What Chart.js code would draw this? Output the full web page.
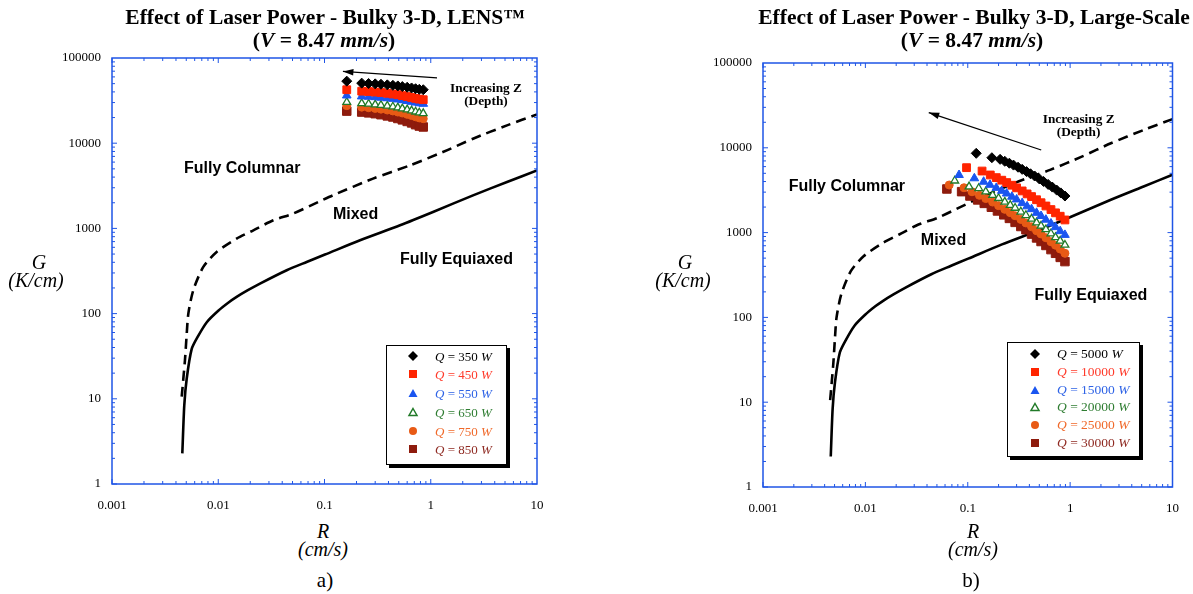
<!DOCTYPE html>
<html>
<head>
<meta charset="utf-8">
<script src="https://cdn.jsdelivr.net/npm/chart.js@4.4.1/dist/chart.umd.min.js"></script>
<style>
  body { margin: 0; background: #fff; font-family: "Liberation Serif", "Times New Roman", serif; }
  #page { position: relative; width: 1193px; height: 594px; overflow: hidden; }
  .panel { position: absolute; top: 0; }
  .panel canvas { display: block; }
  .txt { position: absolute; transform: translate(-50%, -50%); white-space: nowrap; line-height: 1; color: #000; }
  .title { font-weight: bold; font-size: 21.5px; }
  .ax { font-style: italic; font-size: 20px; }
  .unit { font-style: italic; font-size: 20px; }
  .tag { font-size: 21px; }
  .legend { position: absolute; border: 1px solid #000; box-shadow: 3px 3px 0 #000; background: #fff; }
  .legend svg { position: absolute; }
  .legend span { position: absolute; white-space: nowrap; transform: translateY(-50%); line-height: 1; }
</style>
</head>
<body>
<div id="page">
  <div class="panel" style="left:0;width:596px;height:520px"><canvas id="lens" width="596" height="520"></canvas></div>
  <div class="panel" style="left:596px;width:597px;height:523px"><canvas id="large" width="597" height="523"></canvas></div>

  <div class="txt title" style="left:325px;top:18px">Effect of Laser Power - Bulky 3-D, LENS™</div>
  <div class="txt title" style="left:324px;top:41px">(<i>V</i> = 8.47 <i>mm/s</i>)</div>
  <div class="txt title" style="left:974px;top:18px">Effect of Laser Power - Bulky 3-D, Large-Scale</div>
  <div class="txt title" style="left:972px;top:41px">(<i>V</i> = 8.47 <i>mm/s</i>)</div>

  <div class="txt ax" style="left:39px;top:262px">G</div>
  <div class="txt unit" style="left:36px;top:280px">(K/cm)</div>
  <div class="txt ax" style="left:685px;top:262px">G</div>
  <div class="txt unit" style="left:683px;top:280px">(K/cm)</div>

  <div class="txt ax" style="left:323px;top:531px">R</div>
  <div class="txt unit" style="left:323px;top:549px">(cm/s)</div>
  <div class="txt ax" style="left:973px;top:531px">R</div>
  <div class="txt unit" style="left:973px;top:549px">(cm/s)</div>

  <div class="txt tag" style="left:325px;top:580px">a)</div>
  <div class="txt tag" style="left:971px;top:580px">b)</div>

  <div id="legendA" class="legend" style="left:386px;top:345px;width:119px;height:118px"></div>
  <div id="legendB" class="legend" style="left:1007px;top:342px;width:131px;height:113px"></div>
</div>

<script>
// axis ticks
const xTicks = [0.001, 0.01, 0.1, 1, 10];
const yTicks = [1, 10, 100, 1000, 10000, 100000];

// transition boundaries (same in both panels)
const columnarR = [0.00453, 0.00486, 0.00505, 0.00523, 0.00582, 0.00723, 0.00966, 0.0149, 0.0214, 0.0330, 0.0507, 0.0875, 0.120, 0.286, 0.638, 1.30, 2.50, 5.22, 10];
const columnarG = [10.6, 28.4, 58, 100, 188, 353, 529, 759, 950, 1245, 1492, 2040, 2445, 3840, 5495, 7870, 11300, 16200, 21800];
const equiaxedR = [0.00459, 0.00479, 0.00505, 0.00562, 0.0064, 0.0078, 0.0100, 0.0125, 0.0149, 0.019, 0.0247, 0.0441, 0.0679, 0.101, 0.216, 0.514, 1.05, 2.50, 5.22, 10];
const equiaxedG = [2.29, 8.4, 17.3, 38.3, 53.3, 79.3, 108, 135, 157, 188, 225, 323, 404, 493, 726, 1087, 1557, 2443, 3500, 4800];

// panel a) LENS, Q = 350..850 W
const lensLabels = ['350', '450', '550', '650', '750', '850'];
const lensR = [0.162, 0.224, 0.26, 0.30, 0.34, 0.39, 0.44, 0.49, 0.54, 0.60, 0.66, 0.72, 0.78, 0.85];
const lensG350 = [53500, 50700, 50200, 49700, 49200, 48400, 47800, 47000, 46200, 45400, 44500, 43600, 42900, 42400];
const lensG450 = [42400, 40800, 40400, 39800, 39300, 38500, 37800, 37100, 36200, 35300, 34400, 33600, 32900, 32400];
const lensG550 = [36300, 35400, 35100, 34700, 34200, 33700, 33200, 32600, 32000, 31300, 30600, 30000, 29400, 29000];
const lensG650 = [30300, 29300, 28900, 28400, 28000, 27400, 26800, 26200, 25500, 24800, 24100, 23400, 22800, 22400];
const lensG750 = [27600, 26500, 26100, 25600, 25100, 24500, 23900, 23200, 22600, 21800, 21100, 20400, 19800, 19400];
const lensG850 = [23800, 23200, 22700, 22200, 21600, 20900, 20300, 19500, 18800, 18000, 17300, 16500, 15900, 15500];

// panel b) large scale, Q = 5000..30000 W
const bigLabels = ['5000', '10000', '15000', '20000', '25000', '30000'];
const bigR5000 = [0.121, 0.172, 0.207, 0.23, 0.255, 0.28, 0.31, 0.34, 0.375, 0.41, 0.45, 0.50, 0.55, 0.61, 0.67, 0.74, 0.81, 0.89];
const bigG5000 = [8610, 7640, 7310, 6930, 6580, 6250, 5900, 5570, 5240, 4940, 4650, 4300, 4010, 3700, 3440, 3170, 2940, 2700];
const bigR10000 = [0.0973, 0.138, 0.166, 0.19, 0.215, 0.24, 0.27, 0.30, 0.34, 0.38, 0.42, 0.47, 0.52, 0.58, 0.65, 0.72, 0.80, 0.89];
const bigG10000 = [5830, 5320, 4780, 4450, 4150, 3890, 3620, 3370, 3100, 2860, 2660, 2440, 2250, 2060, 1870, 1710, 1560, 1410];
const bigR15000 = [0.0822, 0.116, 0.143, 0.165, 0.19, 0.215, 0.24, 0.27, 0.30, 0.34, 0.38, 0.42, 0.47, 0.52, 0.58, 0.65, 0.72, 0.80, 0.89];
const bigG15000 = [4780, 4370, 3980, 3660, 3370, 3110, 2890, 2650, 2460, 2230, 2040, 1890, 1710, 1570, 1420, 1280, 1160, 1040, 940];
const bigR20000 = [0.0746, 0.103, 0.128, 0.15, 0.175, 0.20, 0.23, 0.26, 0.29, 0.33, 0.37, 0.42, 0.47, 0.52, 0.58, 0.65, 0.72, 0.80, 0.89];
const bigG20000 = [4090, 3480, 3330, 3040, 2760, 2540, 2300, 2110, 1950, 1760, 1600, 1450, 1310, 1200, 1090, 975, 880, 800, 715];
const bigR25000 = [0.0659, 0.0919, 0.110, 0.13, 0.15, 0.175, 0.20, 0.23, 0.26, 0.29, 0.33, 0.37, 0.42, 0.47, 0.52, 0.58, 0.65, 0.72, 0.80, 0.89];
const bigG25000 = [3640, 3380, 3030, 2750, 2520, 2290, 2080, 1880, 1720, 1580, 1430, 1300, 1170, 1050, 965, 870, 780, 710, 640, 570];
const bigR30000 = [0.0625, 0.0871, 0.105, 0.125, 0.145, 0.17, 0.195, 0.225, 0.255, 0.29, 0.33, 0.37, 0.42, 0.47, 0.52, 0.58, 0.65, 0.72, 0.80, 0.89];
const bigG30000 = [3270, 3040, 2700, 2430, 2210, 1990, 1800, 1620, 1470, 1320, 1180, 1080, 960, 865, 785, 705, 630, 570, 510, 455];

// region labels and arrows, placed in data coordinates (R, G)
const lensNotes = [
  { text: 'Fully Columnar', r: 0.00476, g: 5070, kind: 'region' },
  { text: 'Mixed', r: 0.120, g: 1463, kind: 'region' },
  { text: 'Fully Equiaxed', r: 0.514, g: 434, kind: 'region' },
  { text: 'Increasing Z', r: 3.31, g: 43900, kind: 'depth' },
  { text: '(Depth)', r: 3.31, g: 30900, kind: 'depth' }
];
const lensArrow = { r1: 1.146, g1: 58300, r2: 0.149, g2: 69500 };
const bigNotes = [
  { text: 'Fully Columnar', r: 0.00178, g: 3450, kind: 'region' },
  { text: 'Mixed', r: 0.0348, g: 796, kind: 'region' },
  { text: 'Fully Equiaxed', r: 0.448, g: 179, kind: 'region' },
  { text: 'Increasing Z', r: 1.21, g: 21300, kind: 'depth' },
  { text: '(Depth)', r: 1.21, g: 14950, kind: 'depth' }
];
const bigArrow = { r1: 0.522, g1: 9420, r2: 0.0416, g2: 26060 };

const axisBlue = '#1f55e6';
const markerStyles = [
  { shape: 'rectRot', color: '#000000', fill: '#000000', radius: 5, width: 1 },
  { shape: 'rect', color: '#ff2400', fill: '#ff2400', radius: 5.5, width: 1 },
  { shape: 'triangle', color: '#1a55f0', fill: '#1a55f0', radius: 5, width: 1 },
  { shape: 'triangle', color: '#217a28', fill: '#ffffff', radius: 4.5, width: 1.3 },
  { shape: 'circle', color: '#e85a15', fill: '#e85a15', radius: 4, width: 1 },
  { shape: 'rect', color: '#8e1b0d', fill: '#8e1b0d', radius: 6, width: 1 }
];
const legendTextColors = ['#000000', '#ff3a2a', '#2e63e6', '#2f7d32', '#f0692a', '#8f2a22'];

// frame with inward ticks on all four sides, plus the annotations
const framePlugin = {
  id: 'frame',
  afterDraw(chart, args, opts) {
    const { ctx, chartArea: a, scales: { x, y } } = chart;
    ctx.save();
    ctx.strokeStyle = axisBlue;
    ctx.lineWidth = 1.5;
    ctx.strokeRect(a.left, a.top, a.right - a.left, a.bottom - a.top);
    ctx.lineWidth = 1;
    ctx.beginPath();
    for (let e = -3; e < 1; e++) {
      for (let m = 1; m < 10; m++) {
        const px = x.getPixelForValue(m * Math.pow(10, e));
        const len = m === 1 ? 5 : 3;
        ctx.moveTo(px, a.bottom); ctx.lineTo(px, a.bottom - len);
        ctx.moveTo(px, a.top); ctx.lineTo(px, a.top + len);
      }
    }
    for (let e = 0; e < 5; e++) {
      for (let m = 1; m < 10; m++) {
        const py = y.getPixelForValue(m * Math.pow(10, e));
        const len = m === 1 ? 5 : 3;
        ctx.moveTo(a.left, py); ctx.lineTo(a.left + len, py);
        ctx.moveTo(a.right, py); ctx.lineTo(a.right - len, py);
      }
    }
    ctx.stroke();

    ctx.fillStyle = '#000';
    ctx.textBaseline = 'middle';
    opts.notes.forEach(n => {
      if (n.kind === 'region') {
        ctx.font = 'bold 16px "Liberation Sans", Arial, sans-serif';
        ctx.textAlign = 'left';
      } else {
        ctx.font = 'bold 13.3px "Liberation Serif", "Times New Roman", serif';
        ctx.textAlign = 'center';
      }
      ctx.fillText(n.text, x.getPixelForValue(n.r), y.getPixelForValue(n.g));
    });

    const ar = opts.arrow;
    const x1 = x.getPixelForValue(ar.r1), y1 = y.getPixelForValue(ar.g1);
    const x2 = x.getPixelForValue(ar.r2), y2 = y.getPixelForValue(ar.g2);
    const ang = Math.atan2(y2 - y1, x2 - x1);
    ctx.strokeStyle = '#000';
    ctx.lineWidth = 1.3;
    ctx.beginPath();
    ctx.moveTo(x1, y1); ctx.lineTo(x2, y2);
    ctx.stroke();
    ctx.beginPath();
    ctx.moveTo(x2, y2);
    ctx.lineTo(x2 - 11 * Math.cos(ang - 0.3), y2 - 11 * Math.sin(ang - 0.3));
    ctx.lineTo(x2 - 11 * Math.cos(ang + 0.3), y2 - 11 * Math.sin(ang + 0.3));
    ctx.closePath();
    ctx.fillStyle = '#000';
    ctx.fill();
    ctx.restore();
  }
};

function curve(rs, gs, dash) {
  return {
    data: rs.map((r, i) => ({ x: r, y: gs[i] })),
    showLine: true,
    borderColor: '#000',
    borderWidth: 2.6,
    borderDash: dash,
    pointRadius: 0,
    tension: 0.25
  };
}

function makeChart(id, series, layout, notes, arrow) {
  const datasets = series.map((s, i) => {
    const st = markerStyles[i];
    return {
      label: s.label,
      data: s.r.map((r, k) => ({ x: r, y: s.g[k] })),
      showLine: false,
      pointStyle: st.shape,
      pointRadius: st.radius,
      pointBackgroundColor: st.fill,
      pointBorderColor: st.color,
      pointBorderWidth: st.width
    };
  });
  datasets.push(curve(columnarR, columnarG, [10, 6]));
  datasets.push(curve(equiaxedR, equiaxedG, []));

  const tickFont = { family: '"Liberation Serif", "Times New Roman", serif', size: 13 };
  return new Chart(document.getElementById(id), {
    type: 'scatter',
    data: { datasets },
    plugins: [framePlugin],
    options: {
      responsive: false,
      animation: false,
      layout: { padding: layout.padding },
      plugins: {
        legend: { display: false },
        tooltip: { enabled: false },
        frame: { notes, arrow }
      },
      scales: {
        x: {
          type: 'logarithmic', min: 0.001, max: 10,
          grid: { display: false, drawTicks: false },
          border: { display: false },
          ticks: { font: tickFont, color: '#000', padding: 14, autoSkip: false, maxRotation: 0,
                   callback: v => String(v) },
          afterBuildTicks: s => { s.ticks = xTicks.map(v => ({ value: v })); },
          afterFit: s => { s.height = 36; }
        },
        y: {
          type: 'logarithmic', min: 1, max: 100000,
          grid: { display: false, drawTicks: false },
          border: { display: false },
          ticks: { font: tickFont, color: '#000', padding: 11, autoSkip: false,
                   callback: v => String(v) },
          afterBuildTicks: s => { s.ticks = yTicks.map(v => ({ value: v })); },
          afterFit: s => { s.width = layout.yWidth; }
        }
      }
    }
  });
}

const lensSeries = [lensG350, lensG450, lensG550, lensG650, lensG750, lensG850]
  .map((g, i) => ({ label: lensLabels[i], r: lensR, g }));
const bigSeries = [
  { label: bigLabels[0], r: bigR5000, g: bigG5000 },
  { label: bigLabels[1], r: bigR10000, g: bigG10000 },
  { label: bigLabels[2], r: bigR15000, g: bigG15000 },
  { label: bigLabels[3], r: bigR20000, g: bigG20000 },
  { label: bigLabels[4], r: bigR25000, g: bigG25000 },
  { label: bigLabels[5], r: bigR30000, g: bigG30000 }
];

makeChart('lens', lensSeries, { padding: { top: 58, right: 59, left: 0, bottom: 0 }, yWidth: 112 }, lensNotes, lensArrow);
makeChart('large', bigSeries, { padding: { top: 63, right: 15, left: 0, bottom: 0 }, yWidth: 167 }, bigNotes, bigArrow);

// legends (HTML so the italic Q and W stay as real text)
function markerSvg(st) {
  let shape;
  if (st.shape === 'rectRot') shape = `<polygon points="6,1 11,6 6,11 1,6" fill="${st.fill}"/>`;
  else if (st.shape === 'rect') shape = `<rect x="2" y="2" width="8" height="8" fill="${st.fill}"/>`;
  else if (st.shape === 'triangle' && st.fill === '#ffffff') shape = `<polygon points="6,2.5 10,9.5 2,9.5" fill="#fff" stroke="${st.color}" stroke-width="1.5"/>`;
  else if (st.shape === 'triangle') shape = `<polygon points="6,2 10.5,10 1.5,10" fill="${st.fill}"/>`;
  else shape = `<circle cx="6" cy="6" r="4" fill="${st.fill}"/>`;
  return `<svg width="12" height="12" viewBox="0 0 12 12">${shape}</svg>`;
}
function buildLegend(id, labels, first, step, markX, textX, fontSize) {
  const el = document.getElementById(id);
  el.innerHTML = labels.map((lab, i) => {
    const cy = first + i * step;
    return `<div style="position:absolute;left:${markX - 6}px;top:${cy - 6}px;width:12px;height:12px">${markerSvg(markerStyles[i])}</div>` +
      `<span style="left:${textX}px;top:${cy}px;font-size:${fontSize}px;color:${legendTextColors[i]}"><i>Q</i> = ${lab} <i>W</i></span>`;
  }).join('');
}
buildLegend('legendA', lensLabels, 9.7, 18.75, 26, 48, 13);
buildLegend('legendB', bigLabels, 11, 17.8, 27, 49, 13.5);
</script>
</body>
</html>
